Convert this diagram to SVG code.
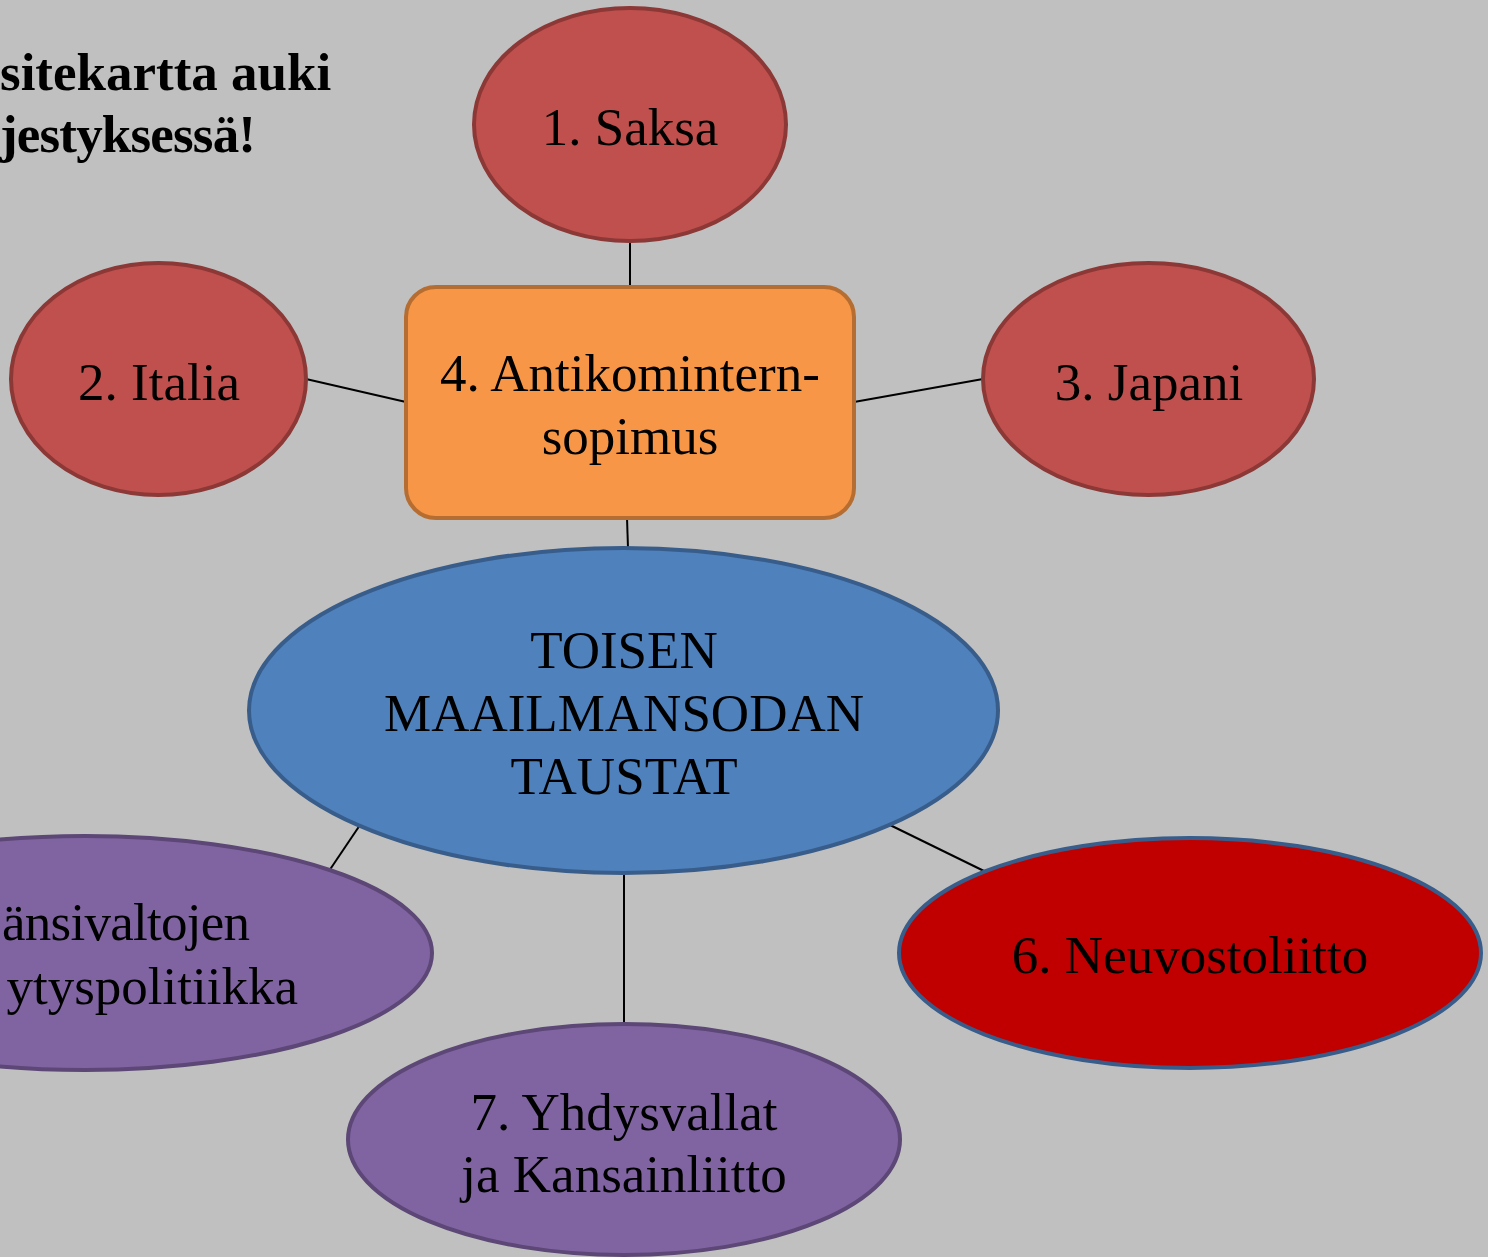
<svg xmlns="http://www.w3.org/2000/svg" width="1488" height="1257" viewBox="0 0 1488 1257">
<style>
text{font-family:"Liberation Serif","Times New Roman",serif;font-size:53px;fill:#000;text-anchor:middle}
.title{font-weight:bold;text-anchor:start}
.red{fill:#C0504D;stroke:#8C3836;stroke-width:4}
.purple{fill:#8064A2;stroke:#5C4776;stroke-width:4}
.blue{fill:#4F81BD;stroke:#385D8A;stroke-width:4}
.orange{fill:#F79646;stroke:#B66D31;stroke-width:4}
.dark{fill:#C00000;stroke:#385D8A;stroke-width:4}
.conn line{stroke:#000;stroke-width:2}
</style>
<rect width="1488" height="1257" fill="#C0C0C0"/>
<g id="title">
<text class="title" x="0" y="90">sitekartta auki</text>
<text class="title" x="0" y="152" textLength="256">jestyksessä!</text>
</g>
<g id="connectors" class="conn">
<line x1="630" y1="241" x2="630" y2="287"/>
<line x1="306" y1="379" x2="406" y2="402"/>
<line x1="983" y1="379" x2="854" y2="402"/>
<line x1="627" y1="518" x2="628" y2="548"/>
<line x1="360" y1="825" x2="329" y2="871"/>
<line x1="890" y1="825" x2="984" y2="871"/>
<line x1="624" y1="873" x2="624" y2="1024"/>
</g>
<g id="saksa">
<ellipse class="red" cx="630" cy="124.5" rx="156" ry="116.5"/>
<text x="630" y="145">1. Saksa</text>
</g>
<g id="italia">
<ellipse class="red" cx="158.5" cy="379" rx="147.5" ry="116"/>
<text x="159" y="400">2. Italia</text>
</g>
<g id="japani">
<ellipse class="red" cx="1148.5" cy="379" rx="165.5" ry="116"/>
<text x="1149" y="400">3. Japani</text>
</g>
<g id="antikomintern">
<rect class="orange" x="406" y="287" width="448" height="231" rx="30"/>
<text x="630" y="391">4. Antikomintern-</text>
<text x="630" y="454">sopimus</text>
</g>
<g id="center">
<ellipse class="blue" cx="623.5" cy="710.5" rx="374.5" ry="162.5"/>
<text x="624" y="668">TOISEN</text>
<text x="624" y="731">MAAILMANSODAN</text>
<text x="624" y="794">TAUSTAT</text>
</g>
<g id="lansivallat">
<ellipse class="purple" cx="85" cy="953" rx="347" ry="117"/>
<text x="2" y="940" style="text-anchor:start" textLength="248">änsivaltojen</text>
<text x="298" y="1004" style="text-anchor:end">ytyspolitiikka</text>
</g>
<g id="neuvostoliitto">
<ellipse class="dark" cx="1190" cy="953" rx="291" ry="115"/>
<text x="1190" y="973">6. Neuvostoliitto</text>
</g>
<g id="yhdysvallat">
<ellipse class="purple" cx="624" cy="1139.5" rx="276" ry="115.5"/>
<text x="624" y="1130">7. Yhdysvallat</text>
<text x="624" y="1192">ja Kansainliitto</text>
</g>
</svg>
